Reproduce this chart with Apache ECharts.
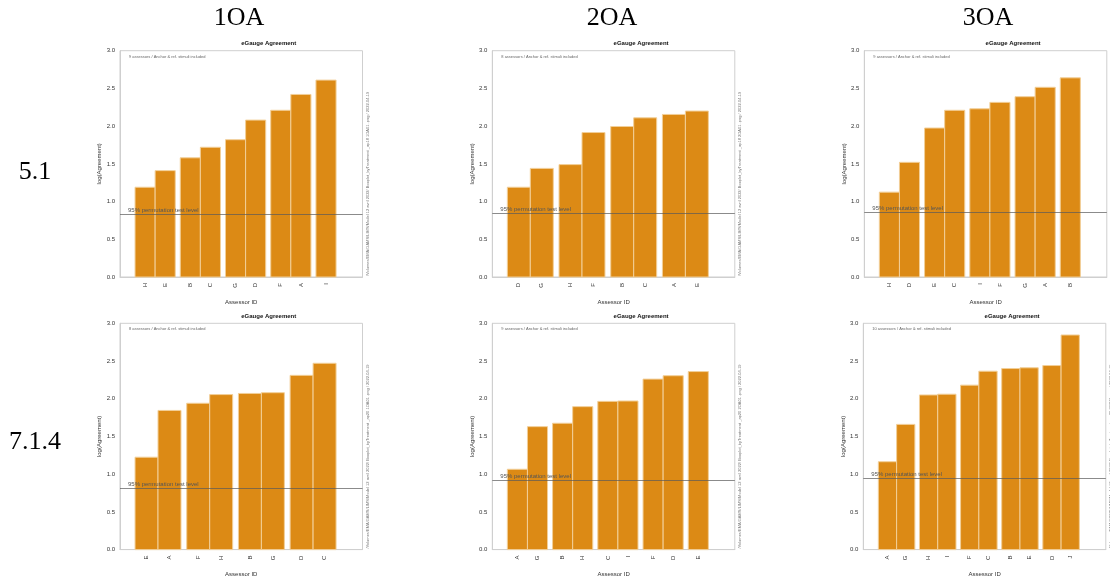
<!DOCTYPE html>
<html>
<head>
<meta charset="utf-8">
<title>eGauge Agreement</title>
<script src="https://cdn.jsdelivr.net/npm/echarts@6/dist/echarts.min.js"></script>
<style>
  html, body { margin: 0; padding: 0; background: #ffffff; }
  #chart { width: 1110px; height: 585px; }
</style>
</head>
<body>
<div id="chart"></div>
<script>
// ---- data: one block per panel (row 5.1 / 7.1.4, columns 1OA / 2OA / 3OA) ----
const colTitles = ['1OA', '2OA', '3OA'];
const rowTitles = ['5.1', '7.1.4'];

const cats51_1 = ['H', 'E', 'B', 'C', 'G', 'D', 'F', 'A', 'I'];
const vals51_1 = [1.19, 1.41, 1.58, 1.72, 1.82, 2.08, 2.21, 2.42, 2.61];
const thr51_1 = 0.834;

const cats51_2 = ['D', 'G', 'H', 'F', 'B', 'C', 'A', 'E'];
const vals51_2 = [1.19, 1.44, 1.49, 1.915, 1.995, 2.11, 2.155, 2.20];
const thr51_2 = 0.847;

const cats51_3 = ['H', 'D', 'E', 'C', 'I', 'F', 'G', 'A', 'B'];
const vals51_3 = [1.125, 1.52, 1.975, 2.21, 2.23, 2.315, 2.39, 2.515, 2.64];
const thr51_3 = 0.86;

const cats714_1 = ['E', 'A', 'F', 'H', 'B', 'G', 'D', 'C'];
const vals714_1 = [1.225, 1.845, 1.94, 2.055, 2.07, 2.08, 2.31, 2.47];
const thr714_1 = 0.805;

const cats714_2 = ['A', 'G', 'B', 'H', 'C', 'I', 'F', 'D', 'E'];
const vals714_2 = [1.065, 1.63, 1.675, 1.895, 1.965, 1.97, 2.26, 2.305, 2.36];
const thr714_2 = 0.916;

const cats714_3 = ['A', 'G', 'H', 'I', 'F', 'C', 'B', 'E', 'D', 'J'];
const vals714_3 = [1.165, 1.66, 2.05, 2.06, 2.18, 2.365, 2.40, 2.41, 2.44, 2.845];
const thr714_3 = 0.942;

const assessorCounts = [9, 8, 9, 8, 9, 10];

// ---- styling / layout ----
const BAR = '#dc8a15';
const BAR_EDGE = '#f2cf98';
const FRAME = '#cfcfcf';
const TXT = '#333333';
const SANS = '"Liberation Sans", Arial, Helvetica, sans-serif';
const SERIF = '"Liberation Serif", "Times New Roman", serif';

const GAP = 0.25;      // space between bar pairs, in bar widths
const LPAD = 0.062;    // left padding as share of axis span
const RPAD = 0.109;    // right padding as share of axis span

const panels = [
  { cats: cats51_1, vals: vals51_1, thr: thr51_1, left: 120,   top: 50.7,  tag: '1OA', ap: '_ap18' },
  { cats: cats51_2, vals: vals51_2, thr: thr51_2, left: 492.3, top: 50.7,  tag: '2OA', ap: '_ap18' },
  { cats: cats51_3, vals: vals51_3, thr: thr51_3, left: 864.3, top: 50.7,  tag: '3OA', ap: '_ap18' },
  { cats: cats714_1, vals: vals714_1, thr: thr714_1, left: 120,   top: 323.3, tag: '1OA', ap: '_ap20' },
  { cats: cats714_2, vals: vals714_2, thr: thr714_2, left: 492.3, top: 323.3, tag: '2OA', ap: '_ap20' },
  { cats: cats714_3, vals: vals714_3, thr: thr714_3, left: 863.3, top: 323.3, tag: '3OA', ap: '_ap20' }
];
const GW = 242.5, GH = 226.3;

function barCenters(n) {
  const out = [];
  for (let i = 0; i < n; i++) out.push(i + 0.5 + Math.floor(i / 2) * GAP);
  return out;
}

const grids = [], xAxes = [], yAxes = [], series = [], graphics = [];

panels.forEach((p, k) => {
  const n = p.cats.length;
  const centers = barCenters(n);
  const span = n + (Math.ceil(n / 2) - 1) * GAP;
  const total = span / (1 - LPAD - RPAD);
  const xMin = -LPAD * total, xMax = span + RPAD * total;

  grids.push({
    left: p.left, top: p.top, width: GW, height: GH,
    show: true, borderColor: FRAME, borderWidth: 1, backgroundColor: 'transparent'
  });

  xAxes.push({
    type: 'value', gridIndex: k, min: xMin, max: xMax,
    name: 'Assessor ID', nameLocation: 'middle', nameGap: 22,
    nameTextStyle: { fontFamily: SANS, fontSize: 6, color: TXT },
    axisLine: { show: true, onZero: false, lineStyle: { color: FRAME, width: 1 } },
    axisTick: { show: false },
    splitLine: { show: false },
    axisLabel: {
      customValues: centers,
      rotate: 90, margin: 6,
      fontFamily: SANS, fontSize: 6, color: TXT,
      formatter: function (v) {
        let best = 0;
        centers.forEach((c, i) => { if (Math.abs(c - v) < Math.abs(centers[best] - v)) best = i; });
        return p.cats[best];
      }
    }
  });

  yAxes.push({
    type: 'value', gridIndex: k, min: 0, max: 3, interval: 0.5,
    name: 'log(Agreement)', nameLocation: 'middle', nameGap: 14, nameRotate: 90,
    nameTextStyle: { fontFamily: SANS, fontSize: 6, color: TXT },
    axisLine: { show: true, onZero: false, lineStyle: { color: FRAME, width: 1 } },
    axisTick: { show: false },
    splitLine: { show: false },
    axisLabel: {
      margin: 5, fontFamily: SANS, fontSize: 6, color: TXT,
      formatter: v => v.toFixed(1)
    }
  });

  series.push({
    type: 'custom',
    xAxisIndex: k, yAxisIndex: k,
    data: centers.map((c, i) => [c, p.vals[i]]),
    encode: { x: 0, y: 1 },
    renderItem: function (params, api) {
      const c = api.value(0), v = api.value(1);
      const a = api.coord([c - 0.5, v]);
      const b = api.coord([c + 0.5, 0]);
      return {
        type: 'rect',
        shape: { x: a[0], y: a[1], width: b[0] - a[0], height: b[1] - a[1] },
        style: { fill: BAR, stroke: BAR_EDGE, lineWidth: 1 }
      };
    },
    markLine: {
      silent: true, symbol: 'none', animation: false,
      lineStyle: { color: 'rgba(90,90,90,0.7)', width: 1, type: 'solid' },
      label: {
        show: true, position: 'insideStartTop', distance: [8, 1],
        formatter: '95% permutation test level',
        fontFamily: SANS, fontSize: 6, color: '#555555'
      },
      data: [{ yAxis: p.thr }]
    },
    z: 2
  });

  // panel title
  graphics.push({
    type: 'text', left: p.left + GW / 2, top: p.top - 10,
    style: { text: 'eGauge Agreement', font: 'bold 6px ' + SANS, fill: '#111', textAlign: 'center' }
  });
  // subtitle inside the frame
  graphics.push({
    type: 'text', x: p.left + 9, y: p.top + 4,
    style: {
      text: assessorCounts[k] + ' assessors / Anchor & ref. stimuli included',
      font: '4px ' + SANS, fill: '#666', textAlign: 'left', textVerticalAlign: 'top'
    }
  });
  // file stamp along the right edge
  graphics.push({
    type: 'text', x: p.left + GW + 5, y: p.top + GH - 1, rotation: Math.PI / 2,
    style: {
      text: '/Volumes/EMA/GAMS/LIMS/Model 12 avril 2022/ Boxplot_byTreatment ' + p.ap + ' ' + p.tag + '01 .png / 2022-04-19',
      font: '4px ' + SANS, fill: '#777', textAlign: 'left', textVerticalAlign: 'middle'
    }
  });
});

// column and row headings
const colX = [239, 612, 988];
colTitles.forEach((t, i) => {
  graphics.push({
    type: 'text', x: colX[i], y: 18,
    style: { text: t, font: '26px ' + SERIF, fill: '#000', textAlign: 'center', textVerticalAlign: 'middle' }
  });
});
const rowY = [172, 442];
rowTitles.forEach((t, i) => {
  graphics.push({
    type: 'text', x: 35, y: rowY[i],
    style: { text: t, font: '26px ' + SERIF, fill: '#000', textAlign: 'center', textVerticalAlign: 'middle' }
  });
});

const chart = echarts.init(document.getElementById('chart'), null, { renderer: 'canvas' });
chart.setOption({
  animation: false,
  backgroundColor: '#ffffff',
  grid: grids,
  xAxis: xAxes,
  yAxis: yAxes,
  series: series,
  graphic: graphics
});
</script>
</body>
</html>
